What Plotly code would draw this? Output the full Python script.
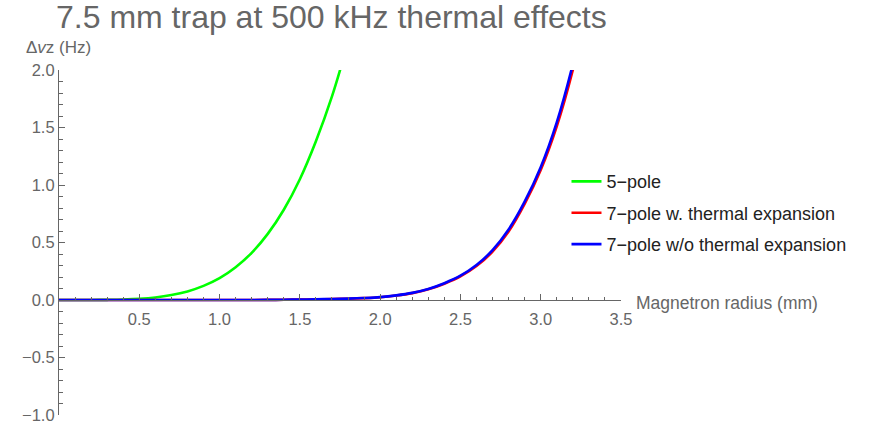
import plotly.graph_objects as go

# ---- data ----
r_grid = [0.0, 0.1, 0.2, 0.3, 0.4, 0.5, 0.6, 0.7, 0.8, 0.9, 1.0, 1.1, 1.2, 1.3,
          1.4, 1.5, 1.6, 1.7, 1.8, 1.9, 2.0, 2.1, 2.2, 2.3, 2.4, 2.5, 2.6, 2.7,
          2.8, 2.9, 3.0, 3.1, 3.2, 3.3]

r_5pole = [0.0, 0.1, 0.2, 0.3, 0.4, 0.5, 0.6, 0.7, 0.8, 0.9, 1.0, 1.1, 1.2,
           1.3, 1.4, 1.5, 1.6, 1.7, 1.8]
dvz_5pole = [0.0, 0.0, 0.0003, 0.0015, 0.004, 0.010, 0.022, 0.043, 0.075, 0.123,
             0.19, 0.285, 0.41, 0.575, 0.785, 1.05, 1.38, 1.77, 2.24]

dvz_7pole_thermal = [0.0, 0.0, 0.0, 0.0, 0.0, 0.0, 0.0, 0.0, 0.0, 0.0, 0.0001,
                     0.0002, 0.0005, 0.001, 0.002, 0.004, 0.006, 0.008, 0.011,
                     0.016, 0.024, 0.039, 0.060, 0.093, 0.142, 0.205, 0.295, 0.42,
                     0.595, 0.835, 1.13, 1.51, 2.00, 2.62]
dvz_7pole_nothermal = [0.0, 0.0, 0.0, 0.0, 0.0, 0.0, 0.0, 0.0, 0.0, 0.0, 0.0001,
                       0.0002, 0.0005, 0.001, 0.002, 0.004, 0.006, 0.009, 0.012,
                       0.017, 0.025, 0.040, 0.062, 0.096, 0.146, 0.211, 0.304, 0.433,
                       0.613, 0.855, 1.155, 1.545, 2.05, 2.68]

series_names = ["5\u2212pole", "7\u2212pole w. thermal expansion",
                "7\u2212pole w/o thermal expansion"]
series_colors = ["#00FF00", "#FF0000", "#0000FF"]

x_ticks = [0.5, 1.0, 1.5, 2.0, 2.5, 3.0, 3.5]
x_minor = [round(0.1 * i, 1) for i in range(1, 35) if i % 5 != 0]
y_ticks = [-1.0, -0.5, 0.0, 0.5, 1.0, 1.5, 2.0]
y_minor = [round(-1 + 0.1 * i, 1) for i in range(1, 30) if i % 5 != 0]

GRAY = "#666666"
FONT = "Liberation Sans, Arial, sans-serif"

fig = go.Figure()
xs = [r_5pole, r_grid, r_grid]
ys = [dvz_5pole, dvz_7pole_thermal, dvz_7pole_nothermal]
for i in range(3):
    fig.add_trace(go.Scatter(
        x=xs[i], y=ys[i], mode="lines", name=series_names[i],
        line=dict(color=series_colors[i], width=2.6, shape="spline", smoothing=1.0),
        legendgroup=str(i),
    ))

fig.update_layout(
    width=869, height=426,
    margin=dict(l=59, r=248, t=70, b=11, autoexpand=False),
    paper_bgcolor="white", plot_bgcolor="white",
    font=dict(family=FONT, color=GRAY, size=16),
    title=dict(text="7.5 mm trap at 500 kHz thermal effects",
               x=56 / 869, xanchor="left", xref="container",
               y=1 - 6 / 426, yanchor="top", yref="container",
               font=dict(size=32, color=GRAY, family=FONT)),
    showlegend=True,
    legend=dict(x=0.903, xanchor="left", y=0.73, yanchor="top",
                font=dict(size=18, color="#222222", family=FONT),
                bgcolor="rgba(0,0,0,0)", tracegroupgap=5,
                traceorder="grouped", itemwidth=30),
    xaxis=dict(range=[0, 3.5], showgrid=False, zeroline=False, automargin=False,
               showline=True, linecolor=GRAY, linewidth=1.2,
               anchor="free", position=1 / 3,
               tickmode="array", tickvals=x_ticks,
               ticktext=[f"{v:.1f}" for v in x_ticks],
               ticks="inside", ticklen=6, tickcolor=GRAY, tickwidth=1,
               ticklabelstandoff=4,
               minor=dict(tickmode="array", tickvals=x_minor, ticks="inside",
                          ticklen=3, tickcolor=GRAY, tickwidth=1),
               tickfont=dict(size=16.5, color=GRAY)),
    yaxis=dict(range=[-1, 2], showgrid=False, zeroline=False, automargin=False,
               showline=True, linecolor=GRAY, linewidth=1.2,
               tickmode="array", tickvals=y_ticks,
               ticktext=[("\u2212" if v < 0 else "") + f"{abs(v):.1f}" for v in y_ticks],
               ticks="inside", ticklen=6, tickcolor=GRAY, tickwidth=1,
               minor=dict(tickmode="array", tickvals=y_minor, ticks="inside",
                          ticklen=4, tickcolor=GRAY, tickwidth=1),
               tickfont=dict(size=16.5, color=GRAY)),
)

fig.add_annotation(text="Magnetron radius (mm)", x=3.5, y=0, xref="x", yref="y",
                   xanchor="left", yanchor="middle", xshift=13, yshift=-3,
                   showarrow=False, font=dict(size=17.5, color=GRAY, family=FONT))
fig.add_annotation(text="\u0394<i>v</i>z (Hz)", x=-35 / 562, y=1.065,
                   xref="paper", yref="paper", xanchor="left", yanchor="middle",
                   showarrow=False, font=dict(size=17, color=GRAY, family=FONT))

fig.write_html("out.html")
